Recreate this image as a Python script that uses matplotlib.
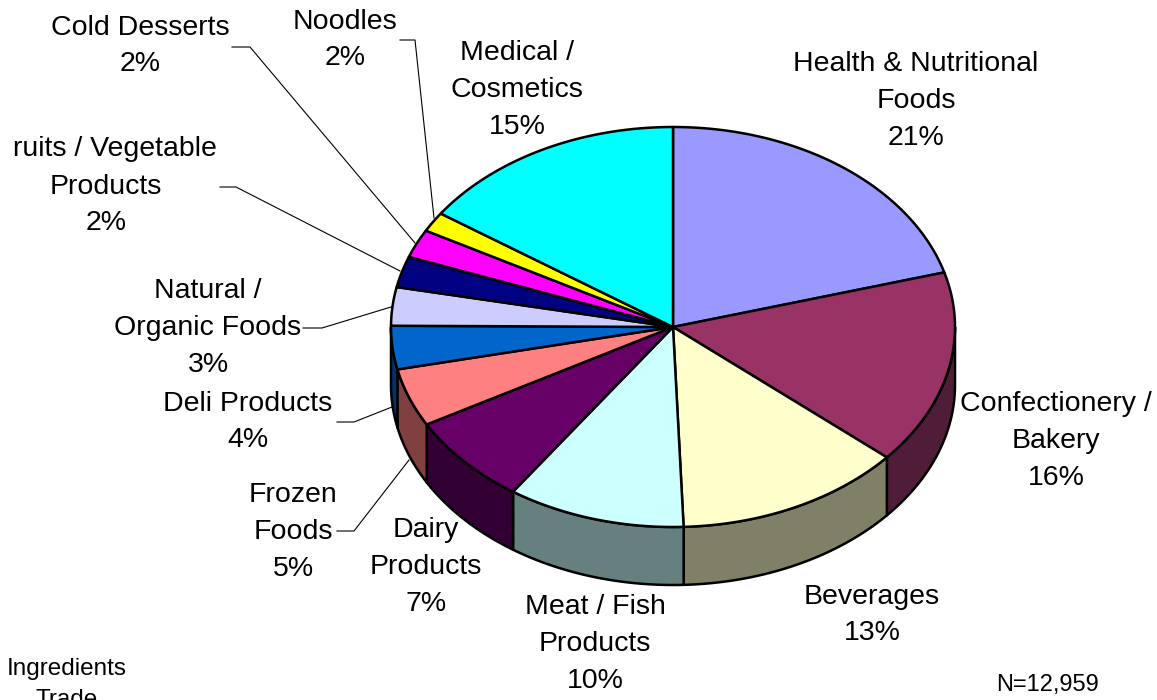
import numpy as np
import matplotlib
matplotlib.use("Agg")
import matplotlib.pyplot as plt

plt.rcParams['font.family'] = ['Liberation Sans', 'DejaVu Sans']

# Дані
categories = ["Health & Nutritional\nFoods", "Confectionery /\nBakery", "Beverages",
              "Meat / Fish\nProducts", "Dairy\nProducts", "Frozen\nFoods", "Deli Products",
              "Natural /\nOrganic Foods", "Products", "Cold Desserts",
              "Noodles", "Medical /\nCosmetics"]
percent_labels = [21, 16, 13, 10, 7, 5, 4, 3, 2, 2, 2, 15]
shares = [20.6, 15.7, 13.1, 10.2, 7.3, 4.7, 3.5, 3.1, 2.5, 2.3, 1.6, 15.4]
top_colors = ["#9999FF", "#993366", "#FFFFCC", "#CCFFFF", "#660066", "#FF8080",
              "#0066CC", "#CCCCFF", "#000080", "#FF00FF", "#FFFF00", "#00FFFF"]
wall_colors = ["#4C4C80", "#4F1D38", "#808066", "#668080", "#330033", "#804040",
               "#003366", "#666680", "#000040", "#800080", "#808000", "#008080"]
cut_line = "ruits / Vegetable"  # перша літера обрізана на оригіналі
note_total = "N=12,959"
note_corner = ["Ingredients", "Trade"]

# Геометрія
cx, cy = 673, 327
rx, ry = 282, 200
depth = 58
label_centers = [(916, 101), (1056, 441), (872, 615), (595, 644), (426, 567), (293, 532),
                 (248, 422), (208, 328), (106, 205), (140, 46), (345, 40), (517, 90)]
leaders = [((232, 47), (250, 47), (415, 243)),
           ((400, 40), (415, 40), (434, 218)),
           ((220, 187), (236, 187), (400, 271)),
           ((303, 328), (322, 328), (391, 307)),
           ((337, 422), (354, 422), (392, 407)),
           ((337, 531), (354, 531), (409, 460))]
LW = 1.8


def rim(angle_deg, shift=0):
    """Точка на еліпсі, кут рахуємо за годинниковою стрілкою від верху."""
    a = np.radians(angle_deg)
    return cx + rx * np.sin(a), cy - ry * np.cos(a) + shift


fig = plt.figure(figsize=(11.57, 7), dpi=100)
ax = fig.add_axes([0, 0, 1, 1])
ax.set_xlim(0, 1157)
ax.set_ylim(700, 0)
ax.axis('off')

edges = np.concatenate([[0], np.cumsum(shares)]) / np.sum(shares) * 360

# Бокові стінки: видно тільки передню частину
for i in range(len(shares)):
    a0, a1 = max(edges[i], 90), min(edges[i + 1], 270)
    if a0 >= a1:
        continue
    ang = np.linspace(a0, a1, 60)
    xt, yt = rim(ang)
    xb, yb = rim(ang, depth)
    ax.fill(np.r_[xt, xb[::-1]], np.r_[yt, yb[::-1]], facecolor=wall_colors[i],
            edgecolor='black', linewidth=LW, joinstyle='round', zorder=2)

# Верхні сектори
for i in range(len(shares)):
    ang = np.linspace(edges[i], edges[i + 1], 60)
    xt, yt = rim(ang)
    ax.fill(np.r_[cx, xt], np.r_[cy, yt], facecolor=top_colors[i],
            edgecolor='black', linewidth=LW, joinstyle='round', zorder=3)

for p0, p1, p2 in leaders:
    ax.plot([p0[0], p1[0], p2[0]], [p0[1], p1[1], p2[1]], color='black', linewidth=0.8, zorder=1)

# Підписи
for name, pct, (x, y) in zip(categories, percent_labels, label_centers):
    ax.text(x, y, f"{name}\n{pct}%", ha='center', va='center', fontsize=20.5,
            linespacing=1.53, zorder=5)
ax.text(115, 149, cut_line, ha='center', va='center', fontsize=20.5, zorder=5)

ax.text(67, 669, note_corner[0], ha='center', va='center', fontsize=17.5)
ax.text(67, 700, note_corner[1], ha='center', va='center', fontsize=17.5)
ax.text(1048, 685, note_total, ha='center', va='center', fontsize=17)

fig.savefig("out.png", dpi=100)
